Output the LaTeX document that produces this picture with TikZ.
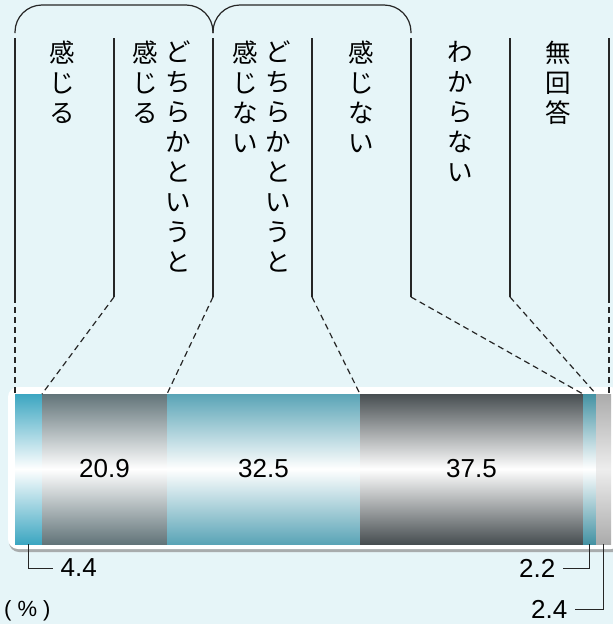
\documentclass[tikz,border=0pt]{standalone}
\usepackage{fontspec}
\setmainfont{Liberation Sans}
\newfontfamily\jp{Noto Sans CJK JP}
\usetikzlibrary{positioning,calc}

\definecolor{fundo}{HTML}{E6F5F8}
\definecolor{sombra}{HTML}{A8ACAD}
\definecolor{azulA}{HTML}{3CA6C1}
\definecolor{cinzaA}{HTML}{627479}
\definecolor{azulB}{HTML}{5AA4B6}
\definecolor{cinzaB}{HTML}{474E51}
\definecolor{azulC}{HTML}{4492A3}
\definecolor{cinzaC}{HTML}{ABABAB}

\begin{document}
\begin{tikzpicture}[x=1pt, y=-1pt]
  \tikzstyle{rotulo}=[font=\jp\fontsize{25.5}{30}\selectfont, align=center, anchor=north, inner sep=0pt]
  \tikzstyle{guia}=[line width=1.2pt, draw=black!85]
  \tikzstyle{tracejado}=[guia, dash pattern=on 6pt off 4pt]
  \tikzstyle{segmento}=[minimum height=150pt, inner sep=0pt, outer sep=0pt, font=\fontsize{26}{26}\selectfont]
  \tikzstyle{numero}=[font=\fontsize{26}{26}\selectfont, inner xsep=7.5pt, inner ysep=0pt]

  % Fundo
  \fill[fundo] (0,0) rectangle (613,624);
  \useasboundingbox (0,0) rectangle (613,624);
  \fill[sombra, rounded corners=10] (9,390) rectangle (623,552);
  \fill[white, rounded corners=10] (8,387) rectangle (621,549);

  % Barra
  \node[segmento, minimum width=27pt, anchor=north west, top color=azulA, bottom color=azulA, middle color=white] (b1) at (15,394) {};
  \node[segmento, minimum width=125pt, right=0pt of b1, top color=cinzaA, bottom color=cinzaA, middle color=white] (b2) {20.9};
  \node[segmento, minimum width=193pt, right=0pt of b2, top color=azulB, bottom color=azulB, middle color=white] (b3) {32.5};
  \node[segmento, minimum width=223pt, right=0pt of b3, top color=cinzaB, bottom color=cinzaB, middle color=white] (b4) {37.5};
  \node[segmento, minimum width=13pt, right=0pt of b4, top color=azulC, bottom color=azulC, middle color=white] (b5) {};
  \node[segmento, minimum width=15pt, right=0pt of b5, top color=cinzaC, bottom color=cinzaC, middle color=black!7] (b6) {};

  % Divisores
  \foreach \i/\x in {0/15,1/114,2/213,3/312,4/411,5/510,6/609} {
    \coordinate (t\i) at (\x,38);
    \coordinate (k\i) at (\x,297);
    \draw[guia] (t\i) -- (k\i);
  }
  \coordinate (a0) at (15,33);
  \coordinate (a2) at (213,33);
  \coordinate (a4) at (411,33);
  \draw[guia, rounded corners=27] (a0) |- (114,5) -| (a2);
  \draw[guia, rounded corners=27] (a2) |- (312,5) -| (a4);

  \draw[tracejado] (k0) -- (b1.north west);
  \draw[tracejado] (k1) -- (b2.north west);
  \draw[tracejado] (k2) -- (b3.north west);
  \draw[tracejado] (k3) -- (b4.north west);
  \draw[tracejado] (k4) -- (b5.north west);
  \draw[tracejado] (k5) -- (b6.north west);
  \draw[tracejado] (k6) -- (k6 |- b6.north);

  % Rotulos
  \node[rotulo] (l1) at (62,41) {感\\じ\\る};
  \node[rotulo] (l2a) at (178,41) {ど\\ち\\ら\\か\\と\\い\\う\\と};
  \node[rotulo] (l2b) at (145,41) {感\\じ\\る};
  \node[rotulo] (l3a) at (278,41) {ど\\ち\\ら\\か\\と\\い\\う\\と};
  \node[rotulo] (l3b) at (245,41) {感\\じ\\な\\い};
  \node[rotulo] (l4) at (361,41) {感\\じ\\な\\い};
  \node[rotulo] (l5) at (460,41) {わ\\か\\ら\\な\\い};
  \node[rotulo] (l6) at (558,41) {無\\回\\答};

  % Valores pequenos
  \node[numero, anchor=west] (n1) at (53,568) {4.4};
  \draw[guia, line width=0.9pt] (b1.south) |- (n1);
  \node[numero, anchor=east] (n5) at (563,568) {2.2};
  \draw[guia, line width=0.9pt] (b5.south) |- (n5);
  \node[numero, anchor=east] (n6) at (575,609) {2.4};
  \draw[guia, line width=0.9pt] (b6.south) |- (n6);

  \node[font=\fontsize{22}{22}\selectfont, anchor=west, inner sep=0pt] (pct) at (4,611) {(\hspace{6pt}\%\hspace{6pt})};
\end{tikzpicture}
\end{document}
